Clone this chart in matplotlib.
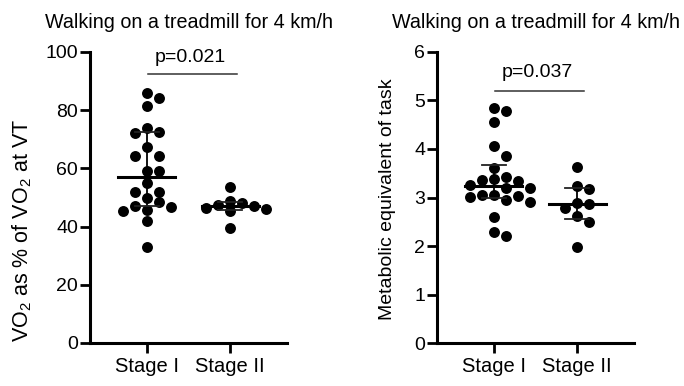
import numpy as np
import matplotlib
matplotlib.use("Agg")
import matplotlib.pyplot as plt

plt.rcParams['font.family'] = ['Liberation Sans', 'DejaVu Sans']
plt.rcParams['mathtext.fontset'] = 'custom'
plt.rcParams['mathtext.rm'] = 'Liberation Sans'
plt.rcParams['mathtext.it'] = 'Liberation Sans:italic'

groups = ['Stage I', 'Stage II']
title = 'Walking on a treadmill for 4 km/h'

# VO2 as % of VO2 at VT
vo2_stage1 = [86.0, 84.3, 81.4, 73.8, 72.5, 72.3, 67.4, 64.3, 64.3, 59.2, 59.0,
              55.1, 52.0, 52.0, 49.7, 48.3, 47.2, 46.8, 45.7, 45.4, 41.9, 32.9]
vo2_stage2 = [53.7, 48.9, 48.0, 47.3, 47.0, 46.5, 45.9, 45.4, 39.6]

# metabolic equivalent of task
met_stage1 = [4.84, 4.77, 4.56, 4.05, 3.85, 3.60, 3.43, 3.38, 3.36, 3.33, 3.26,
              3.20, 3.19, 3.05, 3.05, 3.03, 3.01, 2.95, 2.90, 2.60, 2.30, 2.20]
met_stage2 = [3.63, 3.24, 3.17, 2.89, 2.87, 2.78, 2.62, 2.49, 1.99]

p_left = 'p=0.021'
p_right = 'p=0.037'


def swarm_x(ax, x0, vals, col_px=12, dia_px=10):
    # simple column beeswarm in pixel space
    ys = ax.transData.transform(np.c_[np.zeros(len(vals)), vals])[:, 1]
    dx = ax.transData.transform([(1, 0)])[0, 0] - ax.transData.transform([(0, 0)])[0, 0]
    placed = []
    xs = np.zeros(len(vals))
    order = np.argsort(ys)[::-1]
    cand = [0]
    for k in range(1, 10):
        cand += [k, -k]
    for i in order:
        for k in cand:
            if all(abs(ys[i] - py) >= dia_px for pk, py in placed if pk == k):
                placed.append((k, ys[i]))
                xs[i] = x0 + k * col_px / dx
                break
    return xs


def panel(ax, data, ylim, yticks, ylabel, ptext, bar_y, text_y, ylabel_size):
    ax.set_xlim(-0.68, 1.68)
    ax.set_ylim(*ylim)
    for i, vals in enumerate(data):
        vals = np.array(vals)
        xs = swarm_x(ax, i, vals)
        ax.scatter(xs, vals, s=62, color='black', zorder=3, linewidths=0)
        q1, med, q3 = np.percentile(vals, [25, 50, 75], method='weibull')
        ax.plot([i - 0.34, i + 0.34], [med, med], color='black', lw=2.2, zorder=4)
        ax.plot([i, i], [q1, q3], color='black', lw=1.3, zorder=4)
        for q in (q1, q3):
            ax.plot([i - 0.145, i + 0.145], [q, q], color='#222222', lw=1.3, zorder=4)
    ax.plot([0.02, 1.08], [bar_y, bar_y], color='#333333', lw=1.1)
    ax.text(0.52, text_y, ptext, ha='center', va='baseline', fontsize=14)
    ax.set_xticks([0, 1])
    ax.set_xticklabels(groups, fontsize=14.5)
    ax.set_yticks(yticks)
    ax.tick_params(axis='y', labelsize=14, length=7, width=2, pad=1.5)
    ax.tick_params(axis='x', length=7, width=2, pad=3)
    for s in ('top', 'right'):
        ax.spines[s].set_visible(False)
    for s in ('left', 'bottom'):
        ax.spines[s].set_linewidth(2.2)
    ax.set_ylabel(ylabel, fontsize=ylabel_size)
    ax.set_title(title, fontsize=14.2, pad=17)


fig = plt.figure(figsize=(6.84, 3.86), dpi=100)
ax1 = fig.add_axes([0.1316, 0.1114, 0.288, 0.7539])
ax2 = fig.add_axes([0.6389, 0.1106, 0.288, 0.7554])

panel(ax1, [vo2_stage1, vo2_stage2], (0, 100), [0, 20, 40, 60, 80, 100],
      r'VO$_2$ as % of VO$_2$ at VT', p_left, 92.5, 96.7, 15.5)
ax1.yaxis.set_label_coords(-0.285, 0.385)

panel(ax2, [met_stage1, met_stage2], (0, 6), [0, 1, 2, 3, 4, 5, 6],
      'Metabolic equivalent of task', p_right, 5.2, 5.47, 14)
ax2.yaxis.set_label_coords(-0.21, 0.495)

fig.savefig('out.png', dpi=100)
